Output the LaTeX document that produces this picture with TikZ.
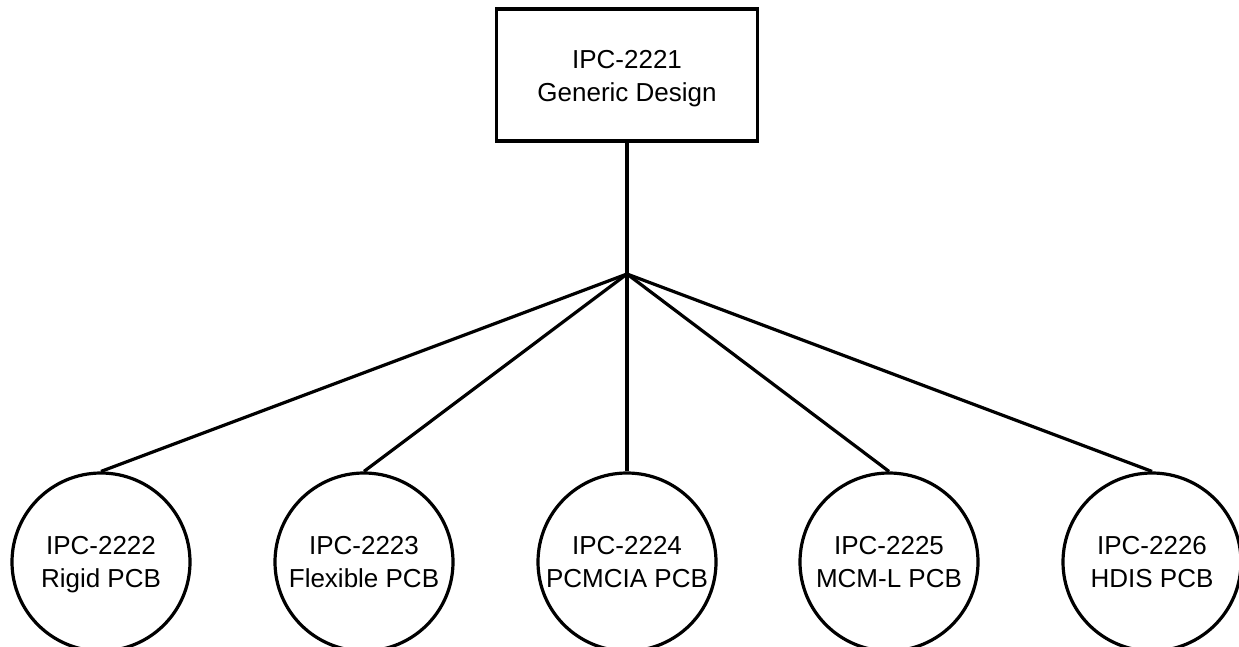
\documentclass[tikz,border=0pt]{standalone}
\usepackage{fontspec}
\setmainfont{Liberation Sans}
\begin{document}
\begin{tikzpicture}[x=1pt,y=-1pt,
  every node/.style={font=\fontsize{26}{33}\selectfont, align=center},
  topbox/.style={draw, line width=3.2pt, minimum width=261pt, minimum height=132pt, inner sep=0pt},
  leaf/.style={draw, circle, line width=3.2pt, minimum size=178pt, inner sep=0pt},
  conn/.style={line width=3.2pt}]
\useasboundingbox (0,0) rectangle (1239,646);
\node[topbox] (root) at (627,75) {\rule{0pt}{30pt}IPC-2221\\Generic Design\strut};
\coordinate (j) at (627,274);
\node[leaf] (c1) at (101,562) {\rule{0pt}{27pt}IPC-2222\\Rigid PCB\strut};
\node[leaf] (c2) at (364,562) {\rule{0pt}{27pt}IPC-2223\\Flexible PCB\strut};
\node[leaf] (c3) at (627,562) {\rule{0pt}{27pt}IPC-2224\\PCMCIA PCB\strut};
\node[leaf] (c4) at (889,562) {\rule{0pt}{27pt}IPC-2225\\MCM-L PCB\strut};
\node[leaf] (c5) at (1152,562) {\rule{0pt}{27pt}IPC-2226\\HDIS PCB\strut};
\draw[conn] (root.south) -- (j);
\foreach \c in {c1,c2,c3,c4,c5} \draw[conn] (j) -- (\c.north);
\end{tikzpicture}
\end{document}
